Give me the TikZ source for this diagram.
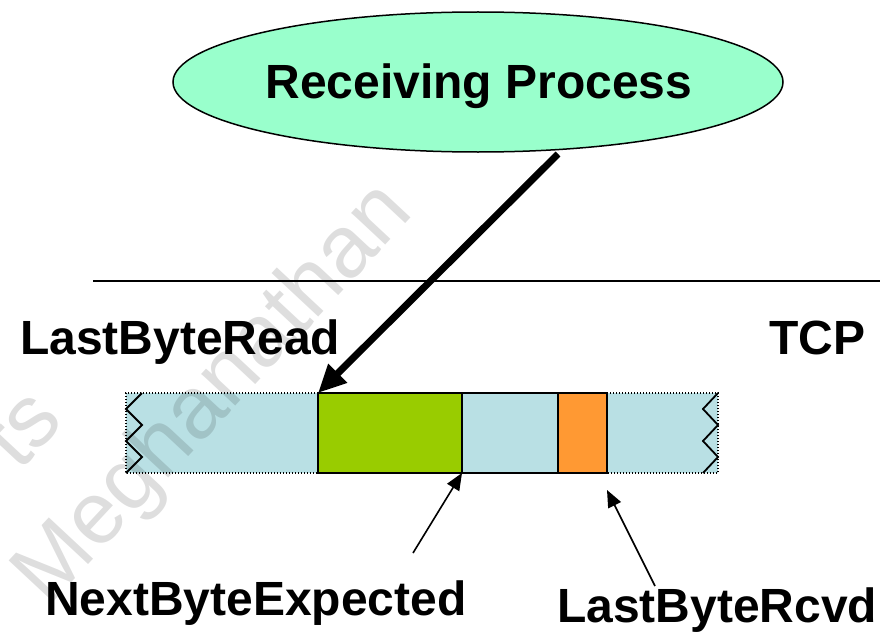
\documentclass[tikz,border=0pt]{standalone}
\usepackage{fontspec}
\setmainfont{Liberation Sans}
\usetikzlibrary{arrows.meta,shapes.geometric}
\definecolor{procfill}{HTML}{99FFCC}
\definecolor{bufblue}{HTML}{B9E0E4}
\definecolor{readgreen}{HTML}{99CC00}
\definecolor{rcvdorange}{HTML}{FF9933}
\begin{document}
\begin{tikzpicture}[x=1pt,y=-1pt,
  lbl/.style={font=\fontsize{48}{50}\selectfont\bfseries, inner sep=0, anchor=base west},
  cell/.style={draw=black, line width=1.8pt, minimum height=80pt, inner sep=0, outer sep=0},
  opencell/.style={fill=bufblue, minimum height=80pt, inner sep=0, outer sep=0},
  dotedge/.style={line width=1.2pt, dash pattern=on 1.4pt off 1.6pt},
  zigzag/.style={line width=1.8pt, line join=miter},
  bigarrow/.style={line width=7pt, -{Triangle[length=28pt,width=25pt]}},
  thinarrow/.style={line width=1.6pt, -{Triangle[length=17pt,width=14pt]}},
  watermark/.style={rotate=47, text=black, text opacity=0.13, inner sep=0,
    font=\fontsize{88}{90}\selectfont}]
\useasboundingbox (0,0) rectangle (886,634);

% receiving process
\node[ellipse, draw=black, line width=1.5pt, fill=procfill,
      minimum width=610pt, minimum height=140pt, inner sep=0] (proc) at (478,82) {};
\node[lbl, anchor=base] (proctxt) at (479,98) {Receiving Process};

% boundary between application and TCP
\coordinate (sepL) at (93,281);
\coordinate (sepR) at (880,281);
\draw[line width=1.3pt] (sepL) -- (sepR);

\node[lbl] (lbr) at (20,354) {LastByteRead};
\node[lbl] (tcp) at (769,354) {TCP};

% receive buffer
\node[opencell, minimum width=192pt] (oldL) at (222,433) {};
\node[opencell, minimum width=111pt] (freeR) at (662.5,433) {};
\draw[dotedge] (oldL.north east) -- (oldL.north west) -- (oldL.south west) -- (oldL.south east);
\draw[dotedge] (freeR.north west) -- (freeR.north east) -- (freeR.south east) -- (freeR.south west);
\draw[zigzag] (142,393) -- (126,409) -- (142,425) -- (126,441) -- (142,457) -- (126,473);
\draw[zigzag] (718,393) -- (703,409) -- (718,425) -- (703,441) -- (718,457) -- (703,473);

\node[cell, fill=readgreen, minimum width=144pt] (unread) at (390,433) {};
\node[cell, fill=bufblue, minimum width=96pt] (gap) at (510,433) {};
\node[cell, fill=rcvdorange, minimum width=49pt] (rcvd) at (582.5,433) {};

% pointers
\coordinate (procfoot) at (558,154);
\draw[bigarrow] (procfoot) -- (unread.north west);

\node[lbl] (nbe) at (45,615) {NextByteExpected};
\node[lbl] (lbrc) at (557,622) {LastByteRcvd};
\coordinate (nbetail) at (413,553);
\coordinate (lbrctail) at (655,586);
\coordinate (lbrchead) at (607,490);
\draw[thinarrow] (nbetail) -- (unread.south east);
\draw[thinarrow] (lbrctail) -- (lbrchead);

% watermark
\node[watermark] (wm1) at (215,395) {Meghanathan};
\node[watermark] (wm2) at (22,428) {ts};
\end{tikzpicture}
\end{document}
